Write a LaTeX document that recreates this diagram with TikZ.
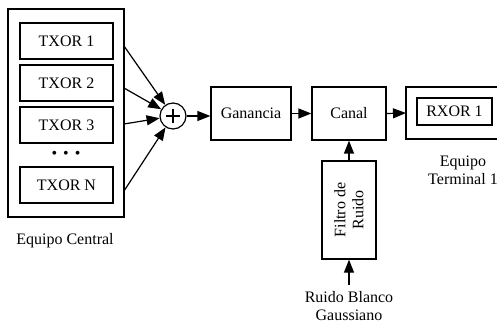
\documentclass[tikz,border=0pt]{standalone}
\usepackage{fontspec}
\setmainfont{Liberation Serif}
\usetikzlibrary{arrows.meta}
\begin{document}
\begin{tikzpicture}[x=1pt,y=-1pt,
  every node/.style={font=\fontsize{16}{18}\selectfont},
  blk/.style={draw,line width=1.2pt,inner sep=0pt,align=center},
  outerbox/.style={draw,line width=1.4pt,inner sep=0pt},
  lbl/.style={align=center,inner sep=0pt},
  arr/.style={line width=1.2pt,-{Triangle[length=13pt,width=10pt]}}]
\useasboundingbox (0,0) rectangle (497,323);
% Equipo Central
\node[outerbox,minimum width=116pt,minimum height=208pt] (central) at (66,113) {};
\node[blk,minimum width=93pt,minimum height=36pt] (t1) at (66.5,41) {TXOR 1};
\node[blk,minimum width=93pt,minimum height=36pt] (t2) at (66.5,83) {TXOR 2};
\node[blk,minimum width=93pt,minimum height=36pt] (t3) at (66.5,125) {TXOR 3};
\node[lbl] (dots) at (66,155) {\textbullet\hspace{6pt}\textbullet\hspace{6pt}\textbullet};
\node[blk,minimum width=93pt,minimum height=36pt] (tn) at (66.5,185) {TXOR N};
\node[lbl] (cenlbl) at (65,241) {Equipo Central};
% sum
\node[draw,circle,line width=1.2pt,minimum size=26pt,inner sep=0pt] (sum) at (173,116) {};
\draw[line width=1.2pt] (166,116) -- (180,116) (173,109) -- (173,123);
\coordinate (o1) at (124,46);
\coordinate (o2) at (124,88);
\coordinate (o3) at (124,124);
\coordinate (o4) at (124,191);
\draw[arr] (o1) -- (sum);
\draw[arr] (o2) -- (sum);
\draw[arr] (o3) -- (sum);
\draw[arr] (o4) -- (sum);
% chain
\node[blk,minimum width=80pt,minimum height=53pt] (gan) at (251,113.5) {Ganancia};
\node[blk,minimum width=74pt,minimum height=53pt] (canal) at (349,113.5) {Canal};
\node[blk,minimum width=54pt,minimum height=98pt] (filt) at (349,210) {};
\node[lbl,rotate=90] (filttxt) at (349,210) {Filtro de\\Ruido};
\node[lbl] (noise) at (349,306) {Ruido Blanco\\Gaussiano};
\draw[arr] (sum) -- (sum -| gan.west);
\draw[arr] (gan) -- (canal);
\draw[arr] (filt) -- (canal);
\draw[arr] ([yshift=6pt]noise.north) -- (filt.south);
% terminal
\coordinate (termin) at (406,113);
\draw[line width=1.4pt] (499,87) -- (406,87) -- (406,139) -- (499,139);
\node[blk,minimum width=75pt,minimum height=27pt] (rx) at (454.5,111.5) {RXOR 1};
\node[lbl] (termlbl) at (463,170) {Equipo\\Terminal 1};
\draw[arr] (canal.east) -- (termin);
\end{tikzpicture}
\end{document}
